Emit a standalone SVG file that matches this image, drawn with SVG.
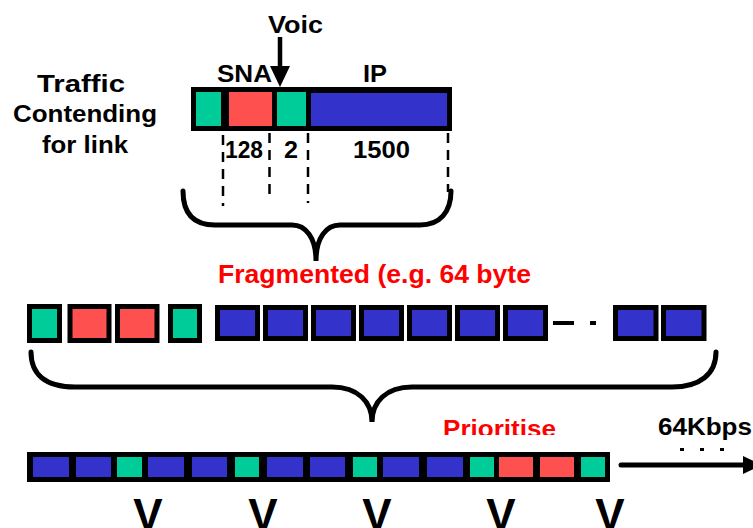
<svg xmlns="http://www.w3.org/2000/svg" width="753" height="528" viewBox="0 0 753 528">
<style>
.t{font-family:"Liberation Sans",Arial,sans-serif;font-weight:bold;font-size:23px;fill:#000}
.r{fill:#FF0000}
.g{fill:#00CC99}
.rd{fill:#FF5050}
.b{fill:#3333CC}
.fr{stroke:#000;stroke-width:5}
.br{fill:none;stroke:#000;stroke-width:5;stroke-linecap:round}
.dl{stroke:#000;stroke-width:2.5;stroke-dasharray:10 7}
</style>
<defs>
<clipPath id="clipP"><rect x="430" y="400" width="140" height="35"/></clipPath>
</defs>
<rect width="753" height="528" fill="#fff"/>

<g id="label-traffic">
<text class="t" x="37" y="92" textLength="88" lengthAdjust="spacingAndGlyphs">Traffic</text>
<text class="t" x="13" y="122" textLength="144" lengthAdjust="spacingAndGlyphs">Contending</text>
<text class="t" x="42" y="153" textLength="86" lengthAdjust="spacingAndGlyphs">for link</text>
</g>

<g id="labels-top">
<text class="t" x="268" y="33" textLength="55" lengthAdjust="spacingAndGlyphs">Voic</text>
<text class="t" x="217" y="82" textLength="55" lengthAdjust="spacingAndGlyphs">SNA</text>
<text class="t" x="363" y="82" textLength="24" lengthAdjust="spacingAndGlyphs">IP</text>
</g>

<g id="packet-top">
<rect x="191" y="87" width="261" height="44" fill="#000"/>
<rect class="g" x="196" y="92" width="25" height="34"/>
<rect class="rd" x="229" y="92" width="43" height="34"/>
<rect class="g" x="277" y="92" width="29" height="34"/>
<rect class="b" x="311" y="93" width="136" height="33"/>
</g>

<g id="sizes">
<text class="t" x="225" y="158" textLength="38" lengthAdjust="spacingAndGlyphs">128</text>
<text class="t" x="284" y="158" textLength="14" lengthAdjust="spacingAndGlyphs">2</text>
<text class="t" x="353" y="158" textLength="57" lengthAdjust="spacingAndGlyphs">1500</text>
</g>

<g id="connectors">
<line x1="280" y1="37" x2="280" y2="68" stroke="#000" stroke-width="4.5"/>
<polygon points="270,66 290,66 280,87" fill="#000"/>
<line class="dl" x1="223" y1="135" x2="223" y2="206"/>
<line class="dl" x1="269.5" y1="133" x2="269.5" y2="200"/>
<line class="dl" x1="308" y1="133" x2="308" y2="203"/>
<line class="dl" x1="448" y1="133" x2="448" y2="192"/>
<path class="br" d="M183,191 C183,212 192,225 215,225 L292,225 C306,225 316,238 316,261 C316,238 326,225 340,225 L420,225 C440,225 451,212 451,191"/>
<path class="br" d="M31,352 C31,374 45,387 75,387 L332,387 C358,387 372,402 372,422 C372,402 386,387 412,387 L672,387 C700,387 716,374 716,352"/>
<line x1="621" y1="465" x2="746" y2="465" stroke="#000" stroke-width="5" stroke-linecap="round"/>
<polygon points="743,456 762,465 743,474" fill="#000"/>
</g>

<g id="label-fragmented">
<text class="t r" x="218" y="283" style="font-size:25px" textLength="313" lengthAdjust="spacingAndGlyphs">Fragmented (e.g. 64 byte</text>
</g>

<g id="fragments">
<rect class="g fr" x="29.5" y="306.5" width="30" height="34"/>
<rect class="rd fr" x="70" y="306.5" width="39" height="34"/>
<rect class="rd fr" x="117.5" y="306.5" width="39.5" height="34"/>
<rect class="g fr" x="170.5" y="306.5" width="29" height="34"/>
<rect class="b fr" x="217.5" y="307.5" width="40" height="31"/>
<rect class="b fr" x="265.5" y="307.5" width="40" height="31"/>
<rect class="b fr" x="313.5" y="307.5" width="40" height="31"/>
<rect class="b fr" x="361.5" y="307.5" width="40" height="31"/>
<rect class="b fr" x="409.5" y="307.5" width="40" height="31"/>
<rect class="b fr" x="457.5" y="307.5" width="40" height="31"/>
<rect class="b fr" x="505.5" y="307.5" width="40" height="31"/>
<rect x="553" y="321" width="21" height="4" fill="#000"/>
<rect x="590" y="321" width="6" height="4" fill="#000"/>
<rect class="b fr" x="615.5" y="307.5" width="40.5" height="31"/>
<rect class="b fr" x="663.5" y="307.5" width="40.5" height="31"/>
</g>

<g id="label-prioritise">
<text class="t r" x="443" y="437" style="font-size:24px" textLength="113" lengthAdjust="spacingAndGlyphs" clip-path="url(#clipP)">Prioritise</text>
</g>

<g id="label-rate">
<text class="t" x="658" y="435" textLength="94" lengthAdjust="spacingAndGlyphs">64Kbps</text>
<rect x="680" y="448" width="4" height="3" fill="#000"/>
<rect x="700" y="448" width="4" height="3" fill="#000"/>
<rect x="720" y="448" width="4" height="3" fill="#000"/>
</g>

<g id="link-queue">
<rect x="27" y="452" width="583" height="30" fill="#000"/>
<rect class="b" x="33" y="457" width="36" height="20"/>
<rect class="b" x="76" y="457" width="35" height="20"/>
<rect class="g" x="117" y="457" width="25" height="20"/>
<rect class="b" x="148" y="457" width="36" height="20"/>
<rect class="b" x="192" y="457" width="35" height="20"/>
<rect class="g" x="235" y="457" width="24" height="20"/>
<rect class="b" x="267" y="457" width="36" height="20"/>
<rect class="b" x="310" y="457" width="35" height="20"/>
<rect class="g" x="353" y="457" width="24" height="20"/>
<rect class="b" x="383" y="457" width="36" height="20"/>
<rect class="b" x="427" y="457" width="36" height="20"/>
<rect class="g" x="470" y="457" width="24" height="20"/>
<rect class="rd" x="499" y="457" width="34" height="20"/>
<rect class="rd" x="540" y="457" width="34" height="20"/>
<rect class="g" x="581" y="457" width="24" height="20"/>
</g>

<g id="voice-marks">
<text class="t" x="148" y="530" text-anchor="middle" style="font-size:44px">V</text>
<text class="t" x="263" y="530" text-anchor="middle" style="font-size:44px">V</text>
<text class="t" x="377" y="530" text-anchor="middle" style="font-size:44px">V</text>
<text class="t" x="501" y="530" text-anchor="middle" style="font-size:44px">V</text>
<text class="t" x="610" y="530" text-anchor="middle" style="font-size:44px">V</text>
</g>
</svg>
